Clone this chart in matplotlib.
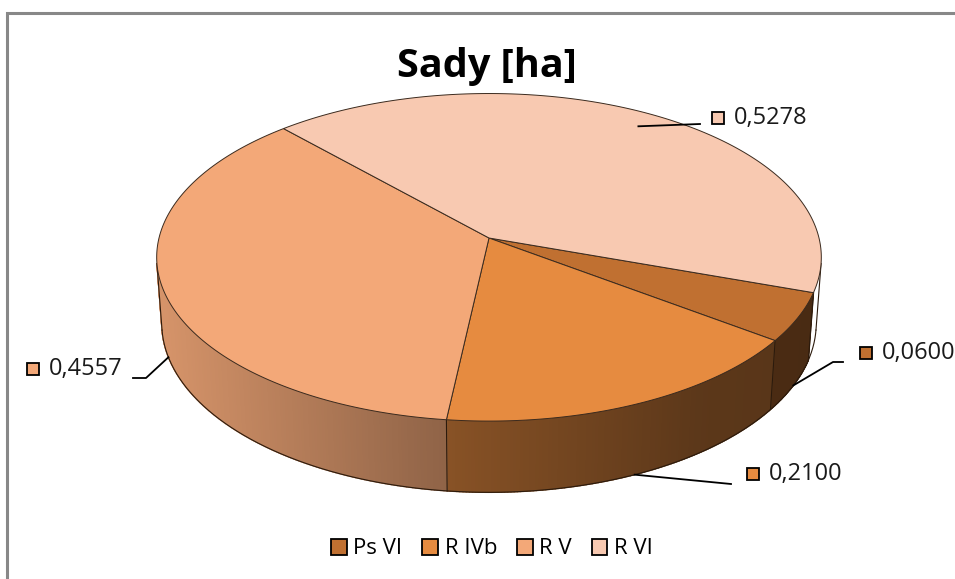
import numpy as np
import matplotlib.pyplot as plt
from matplotlib.patches import Polygon, Rectangle, Patch
from matplotlib.collections import PolyCollection
from matplotlib.colors import to_rgb

labels = ['Ps VI', 'R IVb', 'R V', 'R VI']
values = [0.0600, 0.2100, 0.4557, 0.5278]
value_text = ['0,0600', '0,2100', '0,4557', '0,5278']
colors = ['#c07031', '#e68b40', '#f3a878', '#f8c9b1']

# perspective set-up (pixels)
F, D, ELEV, DEPTH = 2442.0, 7.4, np.radians(29.3), 0.232
CX, CY = 489.0, 238.0
START = -19.0  # degrees, slices go clockwise

plt.rcParams['font.family'] = ['Open Sans', 'DejaVu Sans']


def project(theta, z=0.0, r=1.0):
    X, Y = r * np.cos(theta), r * np.sin(theta)
    yc = Y * np.sin(ELEV) + z * np.cos(ELEV)
    dep = D + Y * np.cos(ELEV) - z * np.sin(ELEV)
    return CX + F * X / dep, CY - F * yc / dep


def shade(x):
    return np.interp(x, [160, 437, 700, 820], [0.88, 0.60, 0.40, 0.38])


fig = plt.figure(figsize=(9.55, 5.79), dpi=100)
ax = fig.add_axes([0, 0, 1, 1])
ax.set_xlim(0, 955)
ax.set_ylim(579, 0)
ax.axis('off')

frac = np.array(values) / sum(values)
bounds = START - np.concatenate([[0], np.cumsum(frac)]) * 360.0

# visible wall range
lim = np.degrees(np.arcsin(-1.0 / (D * np.cos(ELEV))))
vis_lo, vis_hi = -180.0 - lim, lim

# side wall, drawn in thin strips with a left-to-right shading
quads, qcols = [], []
for i in range(len(values)):
    a0, a1 = bounds[i + 1], bounds[i]
    for off in (0.0, -360.0):
        lo, hi = max(a0 + off, vis_lo), min(a1 + off, vis_hi)
        if hi <= lo:
            continue
        ts = np.radians(np.linspace(lo, hi, int((hi - lo) / 0.5) + 2))
        base = np.array(to_rgb(colors[i]))
        for t1, t2 in zip(ts[:-1], ts[1:]):
            x1, y1 = project(t1)
            x2, y2 = project(t2)
            x3, y3 = project(t2, -DEPTH)
            x4, y4 = project(t1, -DEPTH)
            quads.append([(x1, y1), (x2, y2), (x3, y3), (x4, y4)])
            qcols.append(np.clip(base * shade((x1 + x2) / 2), 0, 1))
ax.add_collection(PolyCollection(quads, facecolors=qcols, edgecolors=qcols,
                                 linewidths=1.0, zorder=1))

# wall outline: bottom rim, silhouette and slice seams
edge_kw = dict(color='#2b1a0c', lw=0.8, zorder=2)
tb = np.radians(np.linspace(vis_lo, vis_hi, 300))
bx, by = project(tb, -DEPTH)
ax.plot(bx, by, **edge_kw)
for a in [vis_lo, vis_hi] + list(bounds):
    for off in (0.0, -360.0):
        aa = a + off
        if vis_lo <= aa <= vis_hi:
            t = np.radians(aa)
            px, py = project(np.array([t, t]), np.array([0.0, -DEPTH]))
            ax.plot(px, py, **edge_kw)

# top face
for i in range(len(values)):
    ts = np.radians(np.linspace(bounds[i], bounds[i + 1], 200))
    x, y = project(ts)
    pts = np.column_stack([np.r_[CX, x], np.r_[CY, y]])
    ax.add_patch(Polygon(pts, closed=True, facecolor=colors[i],
                         edgecolor='#3a2a1e', lw=0.7, zorder=3))

# data labels with leader lines
label_sq = [(866, 353), (753, 474), (33, 369), (718, 118)]
leader_pts = [[(833, 362), (843, 362)], [(731, 484)],
              [(146, 378), (133, 378)], [(700, 124)]]
for i in range(len(values)):
    mid = np.radians((bounds[i] + bounds[i + 1]) / 2)
    if np.sin(mid) < -0.154:
        sx, sy = project(mid, -DEPTH)
    else:
        sx, sy = project(mid, 0.0, 0.9)
    xs = [sx] + [p[0] for p in leader_pts[i]]
    ys = [sy] + [p[1] for p in leader_pts[i]]
    ax.plot(xs, ys, color='black', lw=1.3, zorder=4)
    qx, qy = label_sq[i]
    ax.add_patch(Rectangle((qx - 6, qy - 6), 12, 12, facecolor=colors[i],
                           edgecolor='black', lw=1.3, zorder=5))
    ax.text(qx + 16, qy, value_text[i], fontsize=17, va='center',
            ha='left', color='#1a1a1a', zorder=5)

ax.text(487, 67, 'Sady [ha]', fontsize=28.5, fontweight='bold', ha='center',
        va='center', color='black')

# chart border (grey)
ax.plot([7, 7, 960], [600, 13, 13], color='#888888', lw=2.2,
        solid_joinstyle='miter', clip_on=False)

handles = [Patch(facecolor=c, edgecolor='black', lw=1.3) for c in colors]
fig.legend(handles, labels, loc='center', bbox_to_anchor=(492 / 955, 1 - 549 / 579),
           ncol=4, frameon=False, fontsize=16, handlelength=0.7,
           handleheight=0.7, handletextpad=0.3, columnspacing=0.9)

fig.savefig('out.png', dpi=100)
